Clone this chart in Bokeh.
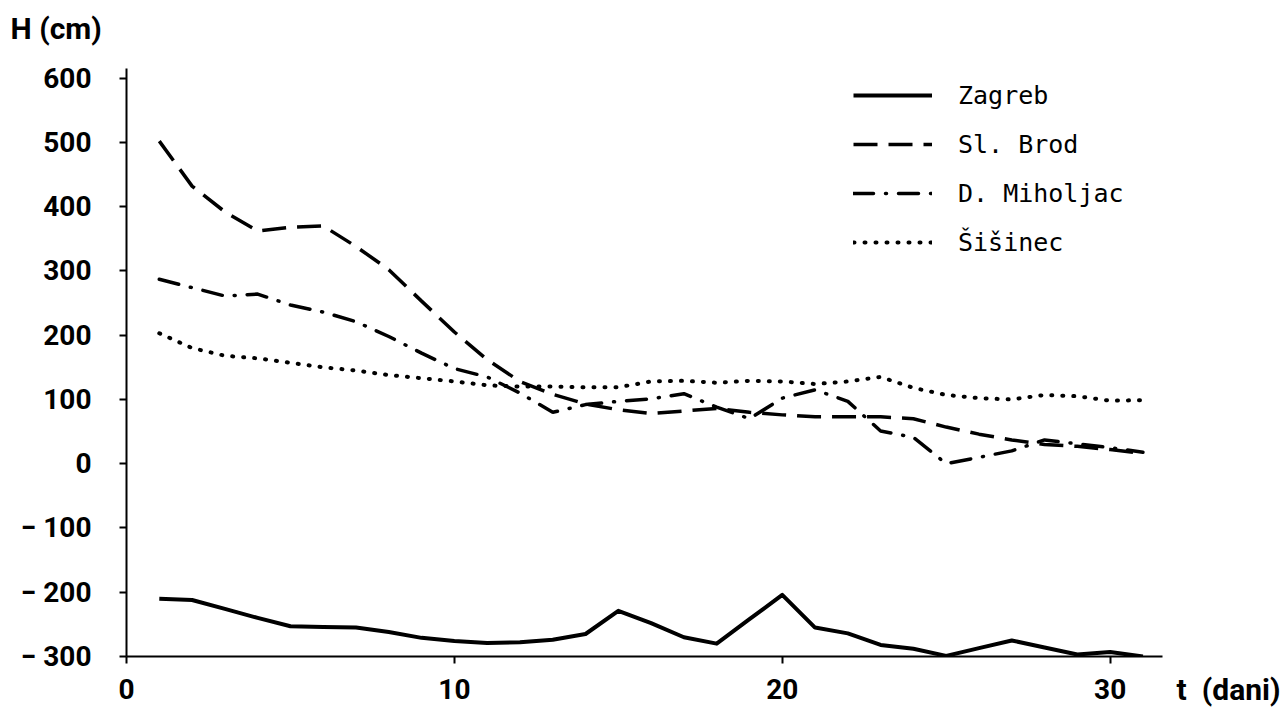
from bokeh.plotting import figure
from bokeh.models import FixedTicker, Legend, LegendItem, Range1d, Title, LinearAxis
from bokeh.embed import file_html
from bokeh.resources import INLINE

# ---- data ----
days = list(range(1, 32))
zagreb = [-210, -212, -226, -240, -253, -254, -255, -262, -271, -276, -279, -278, -274, -265, -229,
          -248, -270, -280, -242, -204, -255, -264, -282, -288, -299, -287, -275, -286, -297, -293, -300]
sl_brod = [502, 432, 392, 362, 368, 370, 338, 302, 253, 205, 162, 128, 108, 93, 84,
           78, 82, 86, 80, 76, 73, 73, 73, 70, 57, 46, 37, 30, 27, 22, 16]
d_miholjac = [287, 274, 261, 264, 247, 236, 221, 198, 172, 148, 135, 110, 80, 92, 97,
              101, 109, 88, 70, 102, 115, 97, 51, 41, 0, 10, 20, 37, 31, 25, 18]
sisinec = [203, 180, 168, 164, 157, 150, 145, 138, 133, 128, 122, 120, 120, 119, 119,
           128, 129, 126, 129, 128, 124, 128, 135, 118, 107, 102, 100, 107, 105, 98, 99]

series_names = ["Zagreb", "Sl. Brod", "D. Miholjac", "Šišinec"]
x_ticks = [0, 10, 20, 30]
y_ticks = [-300, -200, -100, 0, 100, 200, 300, 400, 500, 600]
y_tick_labels = {-300: "\u2212 300", -200: "\u2212 200", -100: "\u2212 100"}
y_title = "H (cm)"
x_title = "t\u2002(dani)"
x_axis_end = 31.6

FONT = "Roboto"

p = figure(output_backend="svg", toolbar_location=None,
           frame_width=1102, frame_height=588,
           x_range=Range1d(0, 33.61), y_range=Range1d(-300, 615),
           min_border_left=126, min_border_top=68, min_border_right=58, min_border_bottom=56)
p.grid.visible = False
p.outline_line_color = None
p.background_fill_color = "white"

p.title = Title(text=y_title + "\n\u00a0", align="left", offset=-116, standoff=0,
                vertical_align="top", text_line_height=0.6,
                text_font=FONT, text_font_style="bold", text_font_size="30px", text_color="black")

for ax in (p.xaxis[0], p.yaxis[0]):
    ax.axis_line_width = 2
    ax.axis_line_color = "black"
    ax.major_tick_line_width = 2
    ax.major_tick_out = 7
    ax.major_tick_in = 0
    ax.minor_tick_out = 0
    ax.minor_tick_in = 0
    ax.major_label_text_font = FONT
    ax.major_label_text_font_style = "bold"
    ax.major_label_text_font_size = "28px"
    ax.major_label_text_color = "black"

p.xaxis.ticker = FixedTicker(ticks=x_ticks, minor_ticks=[])
p.yaxis.ticker = FixedTicker(ticks=y_ticks, minor_ticks=[])
p.yaxis.major_label_overrides = y_tick_labels
p.xaxis.major_label_standoff = 15
p.yaxis.major_label_standoff = 28
p.xaxis.bounds = (0, x_axis_end)

xa = p.xaxis[0]
xa.axis_label = x_title
xa.axis_label_text_font = FONT
xa.axis_label_text_font_style = "bold"
xa.axis_label_text_font_size = "30px"
xa.axis_label_text_color = "black"
xa.axis_label_standoff = -30
if "axis_label_align" in LinearAxis.properties():
    xa.axis_label_align = "end"

r1 = p.line(days, zagreb, line_width=4, line_color="black", line_join="round")
r2 = p.line(days, sl_brod, line_width=3.5, line_color="black", line_dash="24 11")
r3 = p.line(days, d_miholjac, line_width=3.5, line_color="black", line_dash="20 12 1 12",
            line_cap="round")
r4 = p.line(days, sisinec, line_width=4, line_color="black", line_dash="1 10", line_cap="round")

legend = Legend(items=[LegendItem(label=n, renderers=[r]) for n, r in zip(series_names, [r1, r2, r3, r4])],
                location=(727, 399), padding=0, margin=0, spacing=19,
                label_height=30, glyph_height=30, glyph_width=79, label_standoff=26,
                label_text_font="DejaVu Sans Mono", label_text_font_size="25px",
                label_text_color="black",
                border_line_color=None, background_fill_alpha=0)
p.add_layout(legend)

open("out.html", "w").write(file_html(p, INLINE))
